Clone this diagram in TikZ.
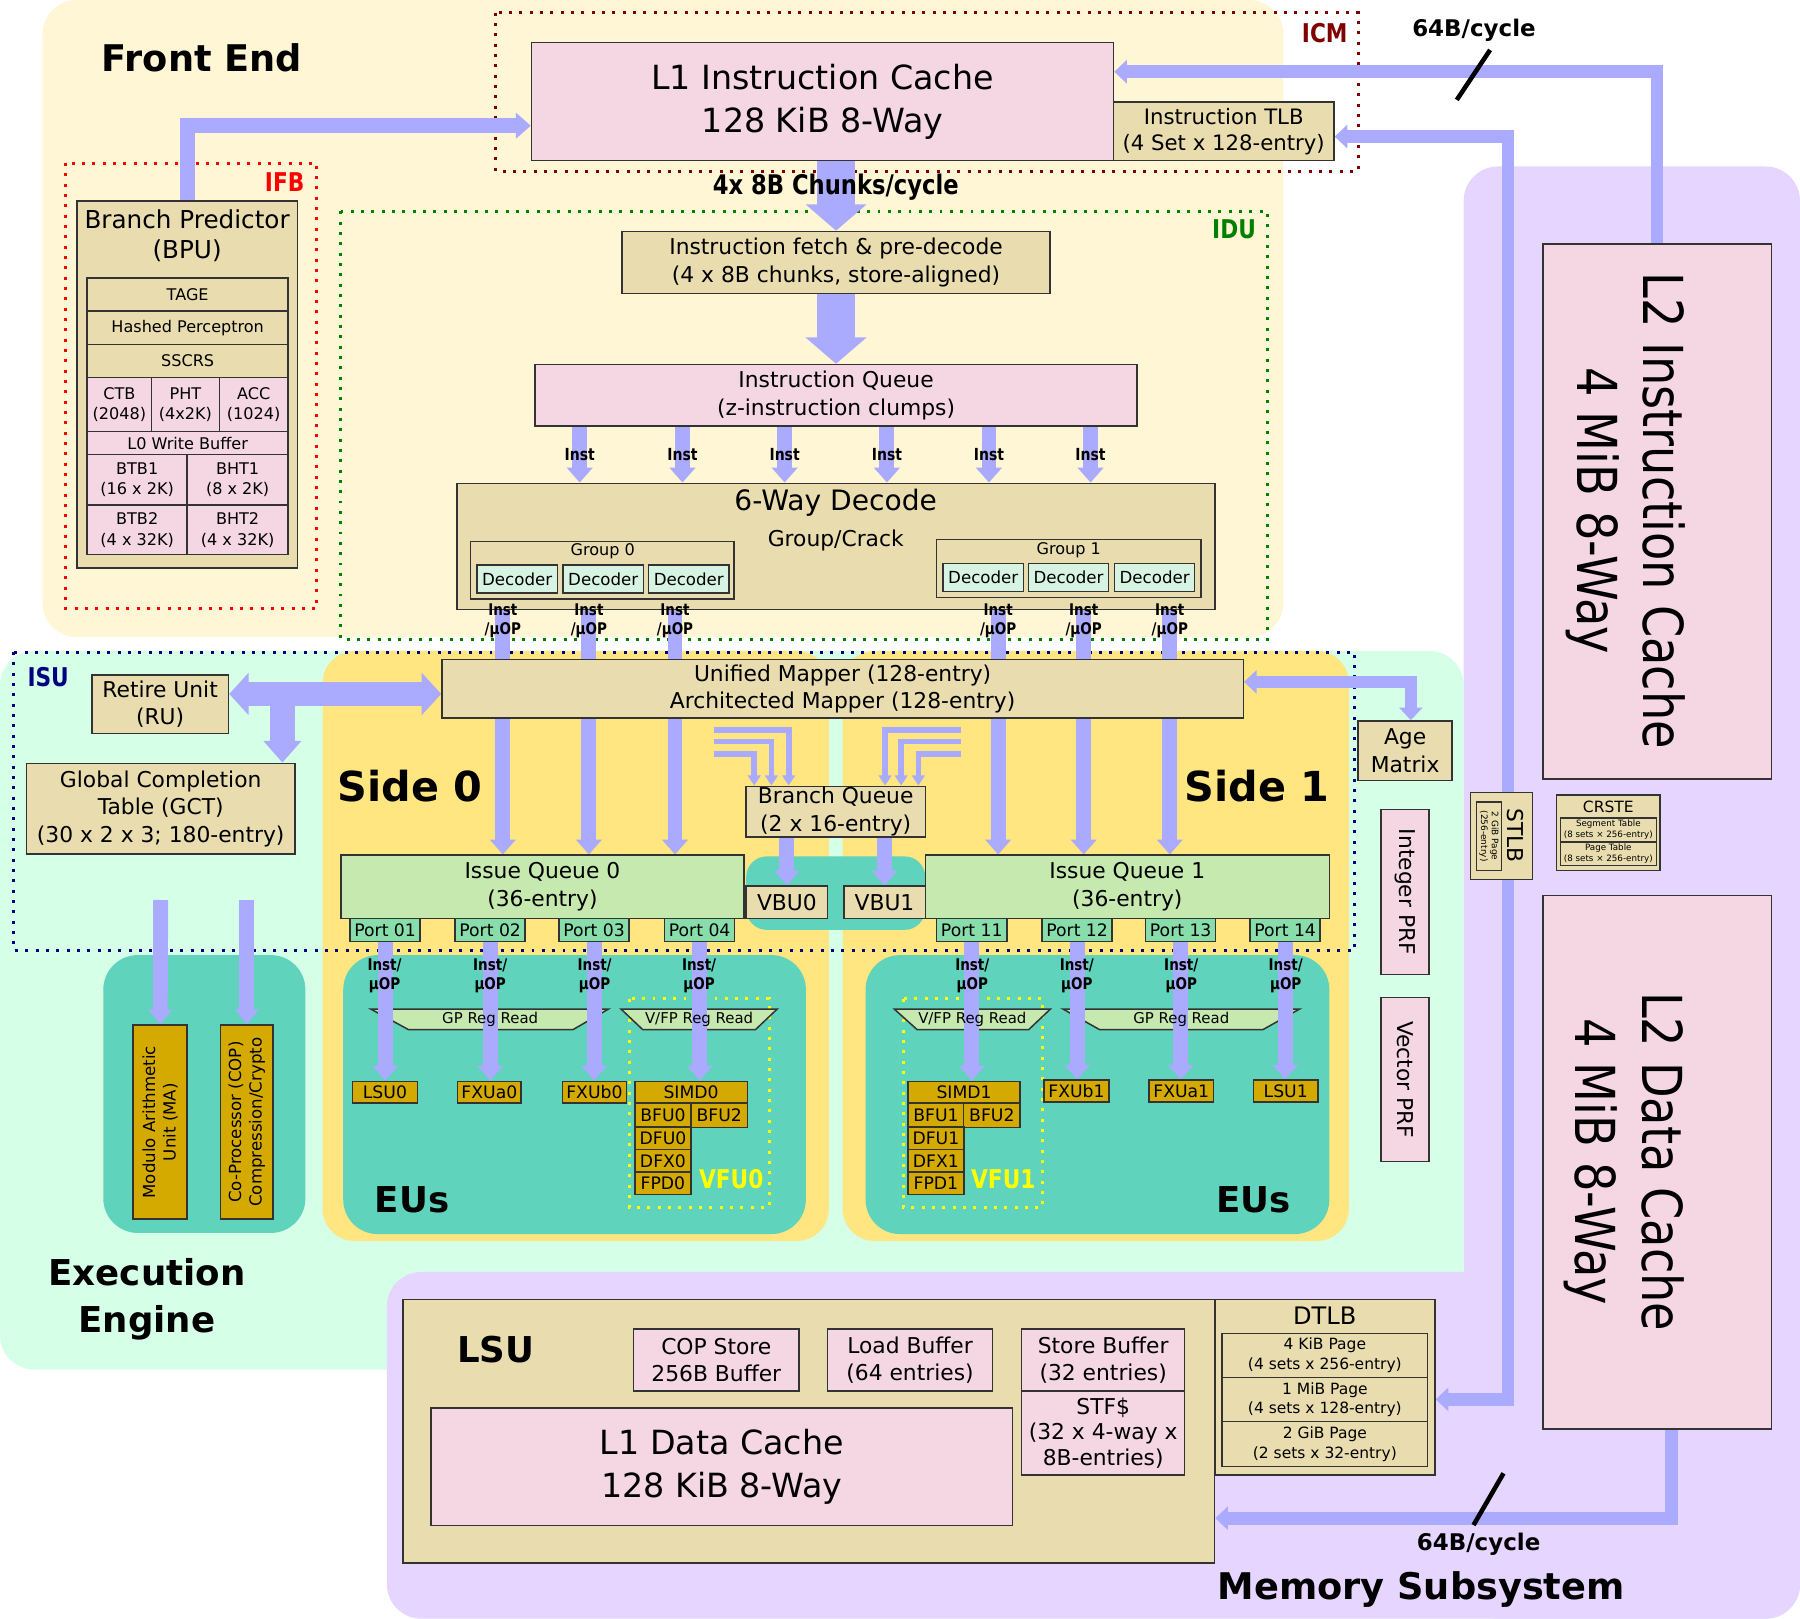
\documentclass[tikz,border=0pt]{standalone}
\usepackage{fontspec}
\setmainfont{DejaVu Sans}
\newfontfamily\condfont[FakeStretch=0.84]{DejaVu Sans}
\usetikzlibrary{arrows.meta}

\definecolor{feC}{HTML}{FFF6D5}
\definecolor{eeC}{HTML}{D5FFE6}
\definecolor{memC}{HTML}{E5D5FF}
\definecolor{sideC}{HTML}{FFE680}
\definecolor{exeC}{HTML}{5FD3BC}
\definecolor{tanC}{HTML}{E9DDAF}
\definecolor{pinkC}{HTML}{F4D7E3}
\definecolor{queueC}{HTML}{C6E9AF}
\definecolor{portC}{HTML}{87DEAA}
\definecolor{goldC}{HTML}{D4AA00}
\definecolor{decC}{HTML}{D7F4E3}
\definecolor{flowC}{HTML}{AAAAFF}
\definecolor{icmC}{HTML}{800000}
\definecolor{ifbC}{HTML}{FF0000}
\definecolor{iduC}{HTML}{008000}
\definecolor{isuC}{HTML}{000080}
\definecolor{vfuC}{HTML}{FFFF00}

\pgfdeclarelayer{regions}
\pgfdeclarelayer{flows}
\pgfsetlayers{regions,flows,main}

\tikzset{
    dims/.style 2 args={minimum width=#1pt, minimum height=#2pt},
    unit/.style={draw=black!80, line width=1.3pt, inner sep=0pt, align=center,
                 font=\fontsize{19}{24}\selectfont},
    tanunit/.style={unit, fill=tanC},
    pinkunit/.style={unit, fill=pinkC},
    queue/.style={unit, fill=queueC},
    port/.style={unit, fill=portC, dims={61}{20}, font=\fontsize{15}{18}\selectfont},
    goldunit/.style={unit, fill=goldC, font=\fontsize{15}{18}\selectfont},
    decoder/.style={unit, fill=decC, dims={70}{24.5}, line width=1.1pt, font=\fontsize{14.5}{17}\selectfont},
    bpcell/.style={font=\fontsize{14}{18}\selectfont},
    dtcell/.style={font=\fontsize{13.5}{17}\selectfont},
    instlbl/.style={inner sep=0pt, font=\condfont\bfseries\fontsize{14.5}{17}\selectfont},
    uoplbl/.style={inner sep=0pt, align=center, font=\condfont\bfseries\fontsize{14}{16.5}\selectfont},
    regtext/.style={inner sep=0pt, font=\fontsize{13}{15}\selectfont},
    regread/.style={fill=queueC, draw=black!80, line width=1.3pt},
    bigttl/.style={inner sep=0pt, align=center, font=\bfseries\fontsize{32}{41}\selectfont},
    sidettl/.style={inner sep=0pt, font=\bfseries\fontsize{36}{43}\selectfont},
    tagttl/.style={inner sep=0pt, font=\condfont\bfseries\fontsize{22.5}{27}\selectfont},
    buslbl/.style={inner sep=0pt, font=\bfseries\fontsize{20}{24}\selectfont},
    l2text/.style={inner sep=0pt, rotate=-90, align=center, font=\condfont\fontsize{48}{58}\selectfont},
    fence/.style={line width=2.6pt, dash pattern=on 2.6pt off 6.4pt},
    flow/.style={draw=flowC, line width=13pt, >={Triangle[width=22pt,length=13pt]}, ->},
    shaft/.style={draw=flowC, line width=13pt},
    bigflow/.style={draw=flowC, line width=33pt, >={Triangle[width=52pt,length=23pt]}, ->},
    wideflow/.style={draw=flowC, line width=21pt, >={Triangle[width=36pt,length=17pt]}},
    bus/.style={draw=flowC, line width=11pt, >={Triangle[width=20pt,length=11pt]}},
    thinflow/.style={draw=flowC, line width=5pt, >={Triangle[width=11pt,length=9pt]}, ->},
    slashln/.style={draw=black, line width=4pt}
}

\begin{document}
\begin{tikzpicture}[x=1pt, y=-1pt]
\useasboundingbox (0,0) rectangle (1568,1410);

% background areas
\begin{pgfonlayer}{regions}
    \fill[memC, rounded corners=30pt] (1275,145) rectangle (1568,1410);
    \fill[eeC, rounded corners=30pt] (0,567) rectangle (1275,1193);
    \fill[memC, rounded corners=30pt] (337,1108) rectangle (1568,1410);
    \fill[feC, rounded corners=30pt] (37,0) rectangle (1118,555);
    \fill[sideC, rounded corners=28pt] (281,567) rectangle (722,1081);
    \fill[sideC, rounded corners=28pt] (734,567) rectangle (1175,1081);
    \fill[exeC, rounded corners=30pt] (90,832) rectangle (266,1074);
    \fill[exeC, rounded corners=30pt] (299,832) rectangle (702,1075);
    \fill[exeC, rounded corners=30pt] (754,832) rectangle (1158,1075);
    \fill[exeC, rounded corners=18pt] (650,746) rectangle (806,810);

    \draw[fence, icmC] (432,11) rectangle (1183,149);
    \draw[fence, ifbC] (57,142) rectangle (276,530);
    \draw[fence, iduC] (297,184) rectangle (1104,557);
    \draw[fence, isuC] (12,568) rectangle (1180,828);
    \draw[fence, vfuC] (548,870) rectangle (670,1052);
    \draw[fence, vfuC] (787,870) rectangle (908,1052);

    \draw[regread] (323,879) -- (530,879) -- (499,897) -- (356,897) -- cycle;
    \draw[regread] (541,879) -- (677,879) -- (658,897) -- (560,897) -- cycle;
    \draw[regread] (779,879) -- (915,879) -- (896,897) -- (799,897) -- cycle;
    \draw[regread] (926,879) -- (1132,879) -- (1100,897) -- (958,897) -- cycle;
\end{pgfonlayer}

% titles
\node[bigttl] (fetitle) at (176,50) {Front End};
\node[sidettl] (s0title) at (357,685) {Side 0};
\node[sidettl] (s1title) at (1095,685) {Side 1};
\node[bigttl, font=\bfseries\fontsize{31}{41}\selectfont] (eu0title) at (359,1045) {EUs};
\node[bigttl, font=\bfseries\fontsize{31}{41}\selectfont] (eu1title) at (1092,1045) {EUs};
\node[bigttl, font=\bfseries\fontsize{31}{41}\selectfont] (eetitle) at (128,1132) {Execution\\Engine};
\node[bigttl] (memtitle) at (1238,1385) {Memory Subsystem};
\node[tagttl, text=icmC] (icmlbl) at (1154,29) {ICM};
\node[tagttl, text=ifbC] (ifblbl) at (248,159) {IFB};
\node[tagttl, text=iduC] (idulbl) at (1075,200) {IDU};
\node[tagttl, text=isuC] (isulbl) at (42,590) {ISU};
\node[tagttl, text=vfuC] (vfu0lbl) at (637,1027) {VFU0};
\node[tagttl, text=vfuC] (vfu1lbl) at (874,1027) {VFU1};

% front end
\node[pinkunit, dims={507}{103}, font=\fontsize{29}{37}\selectfont] (l1i) at (716.5,88.5) {L1 Instruction Cache\\128 KiB 8-Way};
\node[tanunit, dims={192}{51}, font=\fontsize{18.5}{23}\selectfont] (itlb) at (1066,114.5) {Instruction TLB\\(4 Set x 128-entry)};
\node[tagttl, font=\condfont\bfseries\fontsize{23.5}{28}\selectfont] (chunks) at (728,163) {4x 8B Chunks/cycle};
\node[tanunit, dims={373}{54}] (fetch) at (728.3,228.6) {Instruction fetch \& pre-decode\\(4 x 8B chunks, store-aligned)};
\node[pinkunit, dims={524.5}{53.5}] (iq) at (728.3,344.3) {Instruction Queue\\(z-instruction clumps)};

\node[instlbl] (in1) at (505,396) {Inst};
\node[instlbl] (in2) at (594.5,396) {Inst};
\node[instlbl] (in3) at (683.5,396) {Inst};
\node[instlbl] (in4) at (772.6,396) {Inst};
\node[instlbl] (in5) at (861.5,396) {Inst};
\node[instlbl] (in6) at (950,396) {Inst};

\node[tanunit, dims={660.5}{110}] (dec) at (728.3,476) {};
\node[inner sep=0pt, font=\fontsize{24.5}{29}\selectfont] (dectitle) at (728,438) {6-Way Decode};
\node[inner sep=0pt, font=\fontsize{19}{23}\selectfont] (crack) at (728,471) {Group/Crack};
\node[tanunit, dims={229.6}{50}] (grp0) at (524.8,496.7) {};
\node[inner sep=0pt, font=\fontsize{14}{17}\selectfont] (grp0t) at (525,480.5) {Group 0};
\node[decoder] (dc01) at (450.5,504.4) {Decoder};
\node[decoder] (dc02) at (525.5,504.4) {Decoder};
\node[decoder] (dc03) at (600,504.4) {Decoder};
\node[tanunit, dims={230}{50.6}] (grp1) at (931,495.2) {};
\node[inner sep=0pt, font=\fontsize{14}{17}\selectfont] (grp1t) at (931,479) {Group 1};
\node[decoder] (dc11) at (856.5,502.8) {Decoder};
\node[decoder] (dc12) at (930.8,502.8) {Decoder};
\node[decoder] (dc13) at (1005.8,502.8) {Decoder};

\node[uoplbl] (uo1) at (438,541) {Inst\\/µOP};
\node[uoplbl] (uo2) at (513,541) {Inst\\/µOP};
\node[uoplbl] (uo3) at (588,541) {Inst\\/µOP};
\node[uoplbl] (uo4) at (869.5,541) {Inst\\/µOP};
\node[uoplbl] (uo5) at (944,541) {Inst\\/µOP};
\node[uoplbl] (uo6) at (1019,541) {Inst\\/µOP};

% branch predictor
\node[tanunit, dims={192}{320}] (bpu) at (163,335) {};
\node[inner sep=0pt, align=center, font=\fontsize{21.5}{26}\selectfont] (bputitle) at (163,205) {Branch Predictor\\(BPU)};
\node[tanunit, bpcell, dims={175}{29}] (tage) at (163.5,256.5) {TAGE};
\node[tanunit, bpcell, dims={175}{29}] (hp) at (163.5,285.5) {Hashed Perceptron};
\node[tanunit, bpcell, dims={175}{29}] (sscrs) at (163.5,314.5) {SSCRS};
\node[pinkunit, bpcell, dims={56}{47}] (ctb) at (104,352.5) {CTB\\(2048)};
\node[pinkunit, bpcell, dims={59}{47}] (pht) at (161.5,352.5) {PHT\\(4x2K)};
\node[pinkunit, bpcell, dims={60}{47}] (acc) at (221,352.5) {ACC\\(1024)};
\node[pinkunit, bpcell, dims={175}{20}] (l0wb) at (163.5,386) {L0 Write Buffer};
\node[pinkunit, bpcell, dims={87}{44}] (btb1) at (119.5,418) {BTB1\\(16 x 2K)};
\node[pinkunit, bpcell, dims={88}{44}] (bht1) at (207,418) {BHT1\\(8 x 2K)};
\node[pinkunit, bpcell, dims={87}{43}] (btb2) at (119.5,461.5) {BTB2\\(4 x 32K)};
\node[pinkunit, bpcell, dims={88}{43}] (bht2) at (207,461.5) {BHT2\\(4 x 32K)};

% issue side
\node[tanunit, dims={119}{51}] (ru) at (139.5,613.5) {Retire Unit\\(RU)};
\node[tanunit, dims={234}{79}] (gct) at (140,704.5) {Global Completion\\Table (GCT)\\(30 x 2 x 3; 180-entry)};
\node[tanunit, dims={698}{51}] (map) at (734,600) {Unified Mapper (128-entry)\\Architected Mapper (128-entry)};
\node[tanunit, dims={82}{52}] (age) at (1224,654) {Age\\Matrix};
\node[tanunit, dims={156}{44}] (bq) at (728,707) {Branch Queue\\(2 x 16-entry)};
\node[queue, dims={351}{55}] (iq0) at (472.5,772.5) {Issue Queue 0\\(36-entry)};
\node[queue, dims={352}{55}] (iq1) at (982,772.5) {Issue Queue 1\\(36-entry)};
\node[tanunit, dims={71}{28}] (vbu0) at (685.5,786) {VBU0};
\node[tanunit, dims={71}{28}] (vbu1) at (770.5,786) {VBU1};

\node[port] (p01) at (335.5,810) {Port 01};
\node[port] (p02) at (427,810) {Port 02};
\node[port] (p03) at (517.5,810) {Port 03};
\node[port] (p04) at (609.5,810) {Port 04};
\node[port] (p11) at (846.5,810) {Port 11};
\node[port] (p12) at (938.3,810) {Port 12};
\node[port] (p13) at (1028.5,810) {Port 13};
\node[port] (p14) at (1119.5,810) {Port 14};

\node[uoplbl] (u01) at (335,850) {Inst/\\µOP};
\node[uoplbl] (u02) at (427,850) {Inst/\\µOP};
\node[uoplbl] (u03) at (518,850) {Inst/\\µOP};
\node[uoplbl] (u04) at (609,850) {Inst/\\µOP};
\node[uoplbl] (u11) at (847,850) {Inst/\\µOP};
\node[uoplbl] (u12) at (938,850) {Inst/\\µOP};
\node[uoplbl] (u13) at (1029,850) {Inst/\\µOP};
\node[uoplbl] (u14) at (1120,850) {Inst/\\µOP};

\node[regtext] (gprd0) at (427,888) {GP Reg Read};
\node[regtext] (vfrd0) at (609,888) {V/FP Reg Read};
\node[regtext] (vfrd1) at (847,888) {V/FP Reg Read};
\node[regtext] (gprd1) at (1029,888) {GP Reg Read};

% execution units
\begin{scope}[every node/.style={goldunit}]
    \node[dims={56.6}{19}] (lsu0) at (335.3,951.5) {LSU0};
    \node[dims={55.4}{19}] (fxua0) at (426.3,951.5) {FXUa0};
    \node[dims={55.5}{19}] (fxub0) at (517.8,951.5) {FXUb0};
    \node[dims={98}{19}] (simd0) at (602,951.5) {SIMD0};
    \node[dims={49}{21}] (bfu0) at (577.5,971.5) {BFU0};
    \node[dims={49}{21}] (bfu2a) at (626.5,971.5) {BFU2};
    \node[dims={49}{19.5}] (dfu0) at (577.5,991.5) {DFU0};
    \node[dims={49}{19.5}] (dfx0) at (577.5,1011.25) {DFX0};
    \node[dims={49}{19.5}] (fpd0) at (577.5,1031) {FPD0};

    \node[dims={97.6}{19}] (simd1) at (839.8,951.5) {SIMD1};
    \node[dims={48.5}{21}] (bfu1) at (815.3,971.5) {BFU1};
    \node[dims={49}{21}] (bfu2b) at (864,971.5) {BFU2};
    \node[dims={48.5}{19.5}] (dfu1) at (815.3,991.5) {DFU1};
    \node[dims={48.5}{19.5}] (dfx1) at (815.3,1011.25) {DFX1};
    \node[dims={48.5}{19.5}] (fpd1) at (815.3,1031) {FPD1};
    \node[dims={56.5}{19}] (fxub1) at (937.7,950.5) {FXUb1};
    \node[dims={56}{19}] (fxua1) at (1029,950.5) {FXUa1};
    \node[dims={56}{19}] (lsu1) at (1120,950.5) {LSU1};

    \node[rotate=90, dims={169}{47}, font=\fontsize{14.5}{18}\selectfont] (ma) at (139.5,977.5) {Modulo Arithmetic\\Unit (MA)};
    \node[rotate=90, dims={169}{46}, font=\fontsize{14.5}{18}\selectfont] (cop) at (215,977.5) {Co-Processor (COP)\\Compression/Crypto};
\end{scope}

\node[pinkunit, rotate=-90, dims={144}{41.6}] (iprf) at (1223.8,777) {Integer PRF};
\node[pinkunit, rotate=-90, dims={143}{41.6}] (vprf) at (1223.8,940.5) {Vector PRF};

% memory subsystem
\node[pinkunit, dims={199}{466}] (l2i) at (1443.5,445.5) {};
\node[l2text] (l2it) at (1416,445) {L2 Instruction Cache\\4 MiB 8-Way};
\node[pinkunit, dims={199}{465}] (l2d) at (1443.5,1012.5) {};
\node[l2text] (l2dt) at (1415,1012) {L2 Data Cache\\4 MiB 8-Way};

\node[tanunit, dims={54}{75.5}] (stlb) at (1308,728.3) {};
\node[inner sep=0pt, rotate=-90, font=\fontsize{19}{23}\selectfont] (stlbt) at (1320,728) {STLB};
\node[tanunit, rotate=-90, dims={59.4}{22}, line width=1pt, font=\fontsize{7.8}{9.5}\selectfont] (stlbpg) at (1297,728.3) {2 GiB Page\\(256-entry)};

\node[tanunit, dims={90}{66}] (crste) at (1401,725.5) {};
\node[inner sep=0pt, font=\fontsize{13.5}{16}\selectfont] (crstet) at (1401,703) {CRSTE};
\node[tanunit, dims={84}{21}, line width=1pt, font=\fontsize{7.6}{9.5}\selectfont] (segtab) at (1401,723) {Segment Table\\(8 sets × 256-entry)};
\node[tanunit, dims={84}{20.5}, line width=1pt, font=\fontsize{7.6}{9.5}\selectfont] (pgtab) at (1401,743.75) {Page Table\\(8 sets × 256-entry)};

\node[tanunit, dims={707}{229.6}] (lsu) at (704.5,1246.8) {};
\node[bigttl, font=\bfseries\fontsize{31}{41}\selectfont] (lsuname) at (432,1176) {LSU};
\node[pinkunit, dims={144}{54}] (copst) at (624,1184.7) {COP Store\\256B Buffer};
\node[pinkunit, dims={143.5}{54}] (ldbuf) at (792.75,1184.7) {Load Buffer\\(64 entries)};
\node[pinkunit, dims={142}{54}] (stbuf) at (961,1184.7) {Store Buffer\\(32 entries)};
\node[pinkunit, dims={142}{73.3}, font=\fontsize{19}{22}\selectfont] (stf) at (961,1248.35) {STF\$\\(32 x 4-way x\\8B-entries)};
\node[pinkunit, dims={506.4}{102.4}, font=\fontsize{29}{37}\selectfont] (l1d) at (628.8,1277.8) {L1 Data Cache\\128 KiB 8-Way};

\node[tanunit, dims={191.4}{153}] (dtlb) at (1154.3,1208.5) {};
\node[inner sep=0pt, font=\fontsize{21}{25}\selectfont] (dtlbt) at (1154,1146) {DTLB};
\node[tanunit, dtcell, dims={179}{38.6}] (dt4k) at (1154.1,1180.7) {4 KiB Page\\(4 sets x 256-entry)};
\node[tanunit, dtcell, dims={179}{38.4}] (dt1m) at (1154.1,1219.2) {1 MiB Page\\(4 sets x 128-entry)};
\node[tanunit, dtcell, dims={179}{39.2}] (dt2g) at (1154.1,1258) {2 GiB Page\\(2 sets x 32-entry)};

\node[buslbl] (bw1) at (1284,26) {64B/cycle};
\node[buslbl] (bw2) at (1288,1345) {64B/cycle};
\draw[slashln] (1269,87) -- (1298,43.5);
\draw[slashln] (1283.6,1328.5) -- (1309.7,1283.4);

% connectors
\begin{pgfonlayer}{flows}
    \draw[flow] (bpu.north) |- ([yshift=-21pt]l1i.west);
    \draw[bigflow] (l1i.south -| fetch.north) -- (fetch.north);
    \draw[bigflow] (fetch.south) -- (iq.north);

    \draw[flow] (iq.south -| in1) -- (dec.north -| in1);
    \draw[flow] (iq.south -| in2) -- (dec.north -| in2);
    \draw[flow] (iq.south -| in3) -- (dec.north -| in3);
    \draw[flow] (iq.south -| in4) -- (dec.north -| in4);
    \draw[flow] (iq.south -| in5) -- (dec.north -| in5);
    \draw[flow] (iq.south -| in6) -- (dec.north -| in6);

    \draw[shaft] (dec.south -| uo1) -- (map.north -| uo1);
    \draw[shaft] (dec.south -| uo2) -- (map.north -| uo2);
    \draw[shaft] (dec.south -| uo3) -- (map.north -| uo3);
    \draw[shaft] (dec.south -| uo4) -- (map.north -| uo4);
    \draw[shaft] (dec.south -| uo5) -- (map.north -| uo5);
    \draw[shaft] (dec.south -| uo6) -- (map.north -| uo6);

    \draw[flow] (map.south -| uo1) -- (iq0.north -| uo1);
    \draw[flow] (map.south -| uo2) -- (iq0.north -| uo2);
    \draw[flow] (map.south -| uo3) -- (iq0.north -| uo3);
    \draw[flow] (map.south -| uo4) -- (iq1.north -| uo4);
    \draw[flow] (map.south -| uo5) -- (iq1.north -| uo5);
    \draw[flow] (map.south -| uo6) -- (iq1.north -| uo6);

    \draw[wideflow, <->] ([yshift=9pt]ru.east) -- ([yshift=9pt]ru.east -| map.west);
    \coordinate (rujoin) at (246,604);
    \draw[wideflow, line width=22pt, -{Triangle[width=32pt,length=19pt]}] (rujoin) -- (rujoin |- gct.north);
    \draw[bus, <->] ([xshift=5pt]age.north) |- ([yshift=6pt]map.east);

    \coordinate (bqinL1) at (622,636);
    \coordinate (bqinL2) at (622,646);
    \coordinate (bqinL3) at (622,657);
    \coordinate (bqinR1) at (837,636);
    \coordinate (bqinR2) at (837,646);
    \coordinate (bqinR3) at (837,657);
    \draw[thinflow] (bqinL1) -| ([xshift=-41pt]bq.north);
    \draw[thinflow] (bqinL2) -| ([xshift=-56pt]bq.north);
    \draw[thinflow] (bqinL3) -| ([xshift=-71pt]bq.north);
    \draw[thinflow] (bqinR1) -| ([xshift=43pt]bq.north);
    \draw[thinflow] (bqinR2) -| ([xshift=57pt]bq.north);
    \draw[thinflow] (bqinR3) -| ([xshift=72pt]bq.north);
    \draw[flow] (bq.south -| vbu0) -- (vbu0.north);
    \draw[flow] (bq.south -| vbu1) -- (vbu1.north);

    \draw[flow] (p01.south) -- (p01.south |- lsu0.north);
    \draw[flow] (p02.south) -- (p02.south |- fxua0.north);
    \draw[flow] (p03.south) -- (p03.south |- fxub0.north);
    \draw[flow] (p04.south) -- (p04.south |- simd0.north);
    \draw[flow] (p11.south) -- (p11.south |- simd1.north);
    \draw[flow] (p12.south) -- (p12.south |- fxub1.north);
    \draw[flow] (p13.south) -- (p13.south |- fxua1.north);
    \draw[flow] (p14.south) -- (p14.south |- lsu1.north);

    \coordinate (maIn) at (140,784);
    \coordinate (copIn) at (215,784);
    \draw[flow, >={Triangle[width=20pt,length=13pt]}] (maIn) -- (ma.east);
    \draw[flow, >={Triangle[width=20pt,length=13pt]}] (copIn) -- (cop.east);

    \draw[bus, ->] (l2i.north) |- ([yshift=26pt]l1i.east);
    \draw[bus, <->] ([yshift=-4.5pt]itlb.east) -| ([xshift=5.5pt]stlb.center) |- ([yshift=-10.5pt]dtlb.east);
    \draw[bus, ->] ([xshift=12.5pt]l2d.south) |- ([yshift=-75.7pt]lsu.east);
\end{pgfonlayer}
\end{tikzpicture}
\end{document}
